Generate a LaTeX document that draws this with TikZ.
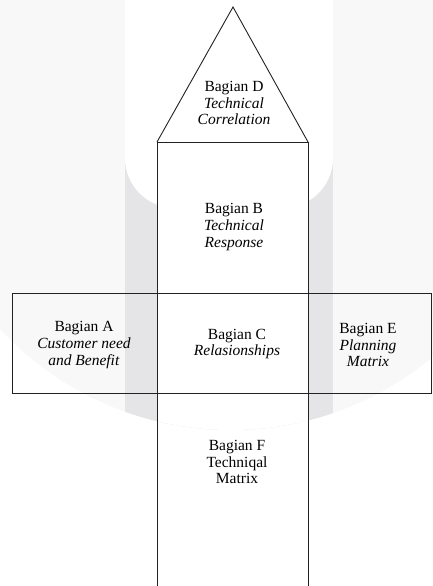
\documentclass[tikz,border=0pt]{standalone}
\usepackage{fontspec}
\setmainfont{Liberation Serif}
\definecolor{wmlight}{HTML}{F8F8F9}
\definecolor{wmdark}{HTML}{E5E5E7}
\definecolor{ink}{HTML}{222222}
\begin{document}
\begin{tikzpicture}[x=1pt,y=-1pt,
  ln/.style={draw=ink, line width=0.9pt},
  lbl/.style={align=center, text=black, inner sep=0pt, font=\fontsize{15.5}{16.7}\selectfont}]
\useasboundingbox (0,0) rectangle (432,586);
% watermark
\begin{scope}
  \clip (231,115) circle (315pt);
  \fill[wmlight] (231,115) circle (315pt);
  \fill[wmdark] (125,150) rectangle (333,460);
  \fill[white, rounded corners=50pt] (125,-60) rectangle (333,208);
  \fill[white] (157,-10) rectangle (308,460);
\end{scope}
% shapes
\coordinate (apex) at (233,7);
\coordinate (tl) at (157,142);
\coordinate (tr) at (308,142);
\coordinate (bl) at (157,590);
\coordinate (br) at (308,590);
\draw[ln, line join=miter] (tl) -- (apex) -- (tr);
\draw[ln] (tl) -- (tr);
\draw[ln] (tl) -- (bl);
\draw[ln] (tr) -- (br);
\draw[ln] (12.5,293.5) rectangle (431.3,393.5);
% labels
\node[lbl] (D) at (234,103) {Bagian D\\\textit{Technical}\\\textit{Correlation}};
\node[lbl] (B) at (234,227) {Bagian B\\\textit{Technical}\\\textit{Response}};
\node[lbl] (C) at (237,344) {Bagian C\\\textit{Relasionships}};
\node[lbl] (A) at (84,345) {Bagian A\\\textit{Customer need}\\\textit{and Benefit}};
\node[lbl] (E) at (368,345) {Bagian E\\\textit{Planning}\\\textit{Matrix}};
\node[lbl] (F) at (237,462) {Bagian F\\Techniqal\\Matrix};
\end{tikzpicture}
\end{document}
